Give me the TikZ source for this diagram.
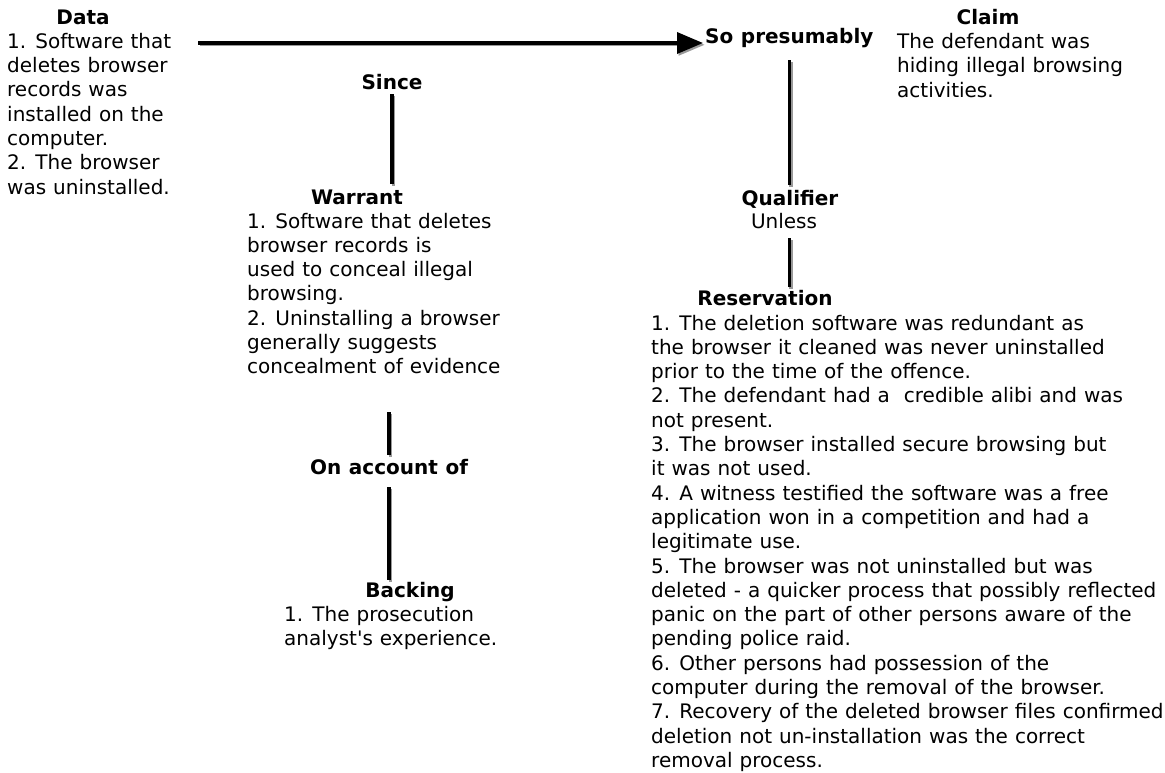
\documentclass[tikz,border=0pt]{standalone}
\usepackage{fontspec}
\setmainfont{DejaVu Sans}[WordSpace=1.1]
\usetikzlibrary{arrows.meta}
\newcommand\diagfont{\fontsize{20pt}{24.3pt}\selectfont}
\begin{document}
\begin{tikzpicture}[x=1pt,y=-1pt,
  every node/.style={font=\diagfont},
  title/.style={font=\diagfont\bfseries, inner sep=0pt, text height=15pt, text depth=5pt, anchor=base},
  plain/.style={inner sep=0pt, text height=15pt, text depth=5pt, anchor=base},
  body/.style={inner sep=0pt, anchor=base west},
  conn/.style={line width=3.6pt, black,
    preaction={draw=black!40, line width=3.2pt, transform canvas={shift={(1.6pt,-1.8pt)}}}},
  arrowconn/.style={conn, -{Triangle[length=26pt,width=21pt]}}
]
\useasboundingbox[fill=white] (0,0) rectangle (1165,772);

% Data
\node[title] (dataT) at (83,24) {Data};
\node[body] (dataBody) at (7,48.3) {\parbox[t]{191pt}{\raggedright
1. Software that\\
deletes browser\\
records was\\
installed on the\\
computer.\\
2. The browser\\
was uninstalled.}};

% Claim
\node[title, anchor=base west] (sopres) at (705,43) {So presumably};
\node[title] (claimT) at (988,24) {Claim};
\node[body] (claimBody) at (897,48.5) {\parbox[t]{260pt}{\raggedright
The defendant was\\
hiding illegal browsing\\
activities.}};

% Warrant
\node[title] (since) at (392,89) {Since};
\node[title] (warrantT) at (357,204) {Warrant};
\node[body] (warrantBody) at (247,228) {\parbox[t]{280pt}{\raggedright
1. Software that deletes\\
browser records is\\
used to conceal illegal\\
browsing.\\
2. Uninstalling a browser\\
generally suggests\\
concealment of evidence}};

% Backing
\node[title] (onacc) at (389,474) {On account of};
\node[title] (backingT) at (410,597) {Backing};
\node[body] (backingBody) at (284,621.5) {\parbox[t]{260pt}{\raggedright
1. The prosecution\\
analyst\textquotesingle s experience.}};

% Qualifier and reservation
\node[title] (qual) at (790,205) {Qualifier};
\node[plain] (unless) at (784,228) {Unless};
\node[title] (reserv) at (765,305) {Reservation};
\node[body] (reservBody) at (651,330) {\parbox[t]{515pt}{\raggedright
1. The deletion software was redundant as\\
the browser it cleaned was never uninstalled\\
prior to the time of the offence.\\
2. The defendant had a~ credible alibi and was\\
not present.\\
3. The browser installed secure browsing but\\
it was not used.\\
4. A witness testified the software was a free\\
application won in a competition and had a\\
legitimate use.\\
5. The browser was not uninstalled but was\\
deleted - a quicker process that possibly reflected\\
panic on the part of other persons aware of the\\
pending police raid.\\
6. Other persons had possession of the\\
computer during the removal of the browser.\\
7. Recovery of the deleted browser files confirmed\\
deletion not un-installation was the correct\\
removal process.}};

% Connectors
\draw[arrowconn, shorten >=2pt] (dataBody.east |- sopres.base) -- (sopres.base west);
\draw[conn, shorten >=5pt] (since.south) -- (since.south |- warrantT.north);
\draw[conn] (onacc.north) ++(0,-4) -- ++(0,-43);
\draw[conn, shorten <=8pt, shorten >=2pt] (onacc.south) -- (onacc.south |- backingT.north);
\draw[conn, shorten <=12pt, shorten >=5pt] (sopres.south) -- (sopres.south |- qual.north);
\draw[conn, shorten <=5pt, shorten >=3pt] (unless.south -| sopres.south) -- (sopres.south |- reserv.north);
\end{tikzpicture}
\end{document}
